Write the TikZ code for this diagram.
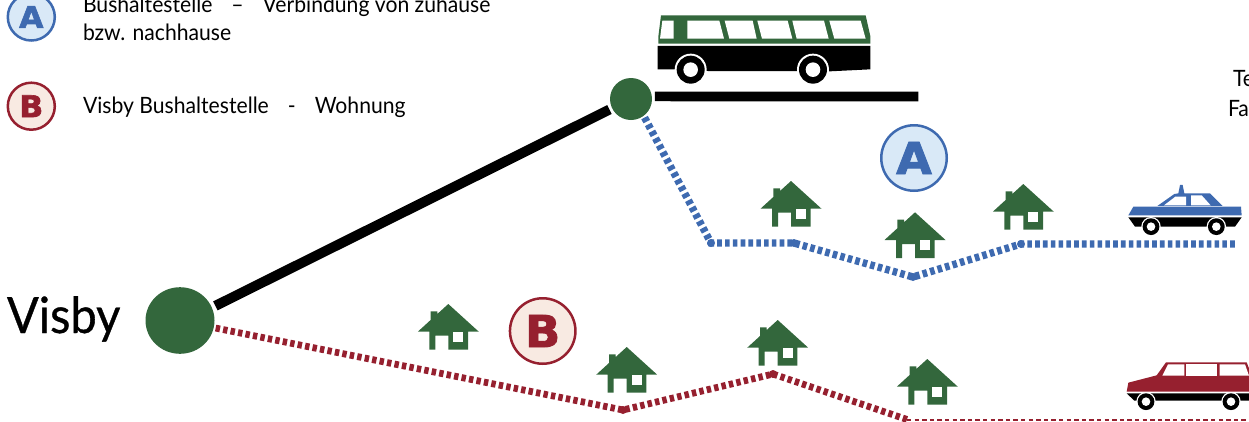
\documentclass[tikz,border=0pt]{standalone}
\usepackage{fontspec}
\setmainfont[FakeStretch=0.94]{Lato}
\newfontfamily\heavyfont[BoldFeatures={FakeBold=2,FakeStretch=1.05}]{DejaVu Sans}
\newfontfamily\bigfont[FakeBold=0.7,FakeStretch=0.94]{Lato}
\usetikzlibrary{shapes.geometric,calc}
\definecolor{hgreen}{RGB}{51,103,60}
\definecolor{lblue}{RGB}{62,106,176}
\definecolor{lred}{RGB}{150,32,47}
\definecolor{paleblue}{RGB}{217,233,247}
\definecolor{palered}{RGB}{248,234,226}
\newcommand{\fsz}[1]{\fontsize{#1}{#1}\selectfont}
\tikzset{
  x=1pt,y=-1pt,
  lab/.style={inner sep=0pt,outer sep=0pt,anchor=base west,font=\fsz{22.5}},
  badge/.style={circle,draw=#1,line width=2.5pt,inner sep=0pt,text=#1},
  bigbadge/.style={badge=#1,minimum size=65.5pt,font=\heavyfont\bfseries\fsz{44}},
  smallbadge/.style={badge=#1,minimum size=47pt,font=\heavyfont\bfseries\fsz{30}},
  hub/.style={fill=hgreen,inner sep=0pt,outer sep=0pt},
  solidroute/.style={line width=10pt,black},
  bluedots/.style={line width=7.4pt,lblue,dash pattern=on 4.6pt off 3.2pt},
  reddots/.style={line width=6.8pt,lred,dash pattern=on 4.4pt off 3.2pt},
  redthin/.style={line width=2pt,lred,dash pattern=on 4.4pt off 3.2pt},
  house/.pic={
    \fill[hgreen] (0,0) -- (30.5,27.7) -- (19.7,27.7) -- (19.7,45.7) -- (0,45.7) -- (0,31.7) -- (-13,31.7) -- (-13,45.7) -- (-19,45.7) -- (-19,27.7) -- (-30.5,27.7) -- (-17.7,16) -- (-17.7,7.3) -- (-11,7.3) -- (-11,10) -- cycle;
    \fill[white] (5,28) rectangle (15,38);
  },
  wheel/.pic={
    \fill[white] (0,0) circle (16pt);
    \fill[black] (0,0) circle (14pt);
    \fill[white] (0,0) circle (7.3pt);
  },
}
\begin{document}
\begin{tikzpicture}
\useasboundingbox (0,0) rectangle (1249,421);
\clip (0,0) rectangle (1249,421);

% legend
\node[smallbadge=lblue,fill=paleblue] (legA) at (31.3,17) {A};
\node[smallbadge=lred,fill=palered] (legB) at (31.3,106.2) {B};
\node[lab] (t1) at (83,12) {Bushaltestelle\hspace{19pt}–\hspace{19pt}Verbindung von zuhause};
\node[lab] (t2) at (83,40) {bzw. nachhause};
\node[lab] (t3) at (83,113.3) {Visby Bushaltestelle\hspace{19pt}-\hspace{19pt}Wohnung};
\node[lab] (t4) at (1233,86.7) {Te};
\node[lab] (t5) at (1228,116.7) {Fa};

% hubs
\node[hub,ellipse,minimum width=69pt,minimum height=66.6pt] (visby) at (180,320.5) {};
\node[hub,circle,minimum size=42pt] (stop) at (631,99) {};
\node[inner sep=0pt,outer sep=0pt,anchor=base west,font=\bigfont\fsz{50}] (vlab) at (7,333) {Visby};

% route waypoints
\coordinate (busend) at (918.3,96.5);
\coordinate (a1) at (711,243);
\coordinate (a2) at (794,243);
\coordinate (a3) at (913,277);
\coordinate (a4) at (1021,244);
\coordinate (a5) at (1236,244);
\coordinate (b1) at (623,410);
\coordinate (b2) at (773,374);
\coordinate (b3) at (907,419.5);
\coordinate (b4) at (1249,419.5);

% routes
\draw[solidroute,shorten <=4pt,shorten >=3pt] (visby.22) -- (stop.206);
\draw[line width=9.6pt,shorten <=3pt] (stop.7) -- (busend);
\draw[bluedots,shorten <=2pt] (stop.-53) -- (a1) -- (a2) -- (a3) -- (a4) -- (a5);
\draw[reddots,shorten <=2pt] (visby.-12) -- (b1) -- (b2) -- (b3);
\draw[redthin] (b3) -- (b4);
\foreach \p in {a1,a2,a3,a4} \fill[lblue] (\p) circle (4pt);
\foreach \p in {b1,b2} \fill[lred] (\p) circle (4pt);

% badges
\node[bigbadge=lblue,fill=paleblue] (bigA) at (914,158) {A};
\node[bigbadge=lred,fill=palered] (bigB) at (542.7,331) {B};

% houses
\foreach \hx/\hy in {791/181,915/212.3,1023.3/184,448.3/304,626.7/347,777.7/320,927.3/359}
  \pic at (\hx,\hy) {house};

% bus
\begin{scope}[shift={(600,0)},x=0.3333pt,y=-0.3333pt]
  \fill[hgreen] (183,46) -- (797,46) -- (811,108) -- (811,131) -- (175,131) -- (175,110) -- cycle;
  \fill[white] (187,62) -- (221,62) -- (221,116) -- (180,116) -- cycle;
  \fill[white] (262,62) -- (358,62) -- (372,116) -- (262,116) -- cycle;
  \fill[white] (374,62) -- (458,62) -- (470,116) -- (388,116) -- cycle;
  \fill[white] (472,62) -- (563,62) -- (577,116) -- (486,116) -- cycle;
  \fill[white] (577,62) -- (672,62) -- (686,116) -- (590,116) -- cycle;
  \fill[white] (688,62) -- (782,62) -- (797,116) -- (703,116) -- cycle;
  \fill[black] (173,138) -- (811,138) -- (811,208) -- (690,214) -- (320,213) -- (225,208) -- (173,208) -- cycle;
  \pic at (272,209) {wheel};
  \pic at (639,209) {wheel};
\end{scope}

% taxi
\begin{scope}[shift={(1100,50)},x=0.3333pt,y=-0.3333pt]
  \fill[lblue] (85,496) -- (100,470) -- (423,470) -- (425,496) -- cycle;
  \fill[lblue] (172,468) -- (223,432) -- (235,430) -- (240,405) -- (248,405) -- (253,430) -- (330,430) -- (368,468) -- cycle;
  \fill[white] (192,466) -- (226,440) -- (258,440) -- (258,466) -- cycle;
  \fill[white] (273,436) -- (305,436) -- (332,466) -- (273,466) -- cycle;
  \fill[black] (85,502) -- (425,502) -- (405,530) -- (105,530) -- cycle;
  \begin{scope}[shift={(153,530)}]
    \fill[white] (0,0) circle (9.7pt); \fill[black] (0,0) circle (8.4pt); \fill[white] (0,0) circle (4.3pt);
  \end{scope}
  \begin{scope}[shift={(349,530)}]
    \fill[white] (0,0) circle (9.7pt); \fill[black] (0,0) circle (8.4pt); \fill[white] (0,0) circle (4.3pt);
  \end{scope}
\end{scope}

% wagon
\begin{scope}[shift={(1100,340)},x=0.3333pt,y=-0.3333pt]
  \fill[lred] (80,155) -- (85,128) -- (170,106) -- (198,67) -- (440,67) -- (455,106) -- (480,106) -- (480,155) -- cycle;
  \fill[white] (187,107) -- (204,73) -- (253,73) -- (253,107) -- cycle;
  \fill[white] (259,73) -- (352,73) -- (352,107) -- (259,107) -- cycle;
  \fill[white] (359,73) -- (435,73) -- (447,107) -- (359,107) -- cycle;
  \fill[black] (80,160) -- (480,160) -- (480,182) -- (103,182) -- cycle;
  \begin{scope}[shift={(138,185)}]
    \fill[white] (0,0) circle (9.7pt); \fill[black] (0,0) circle (8.4pt); \fill[white] (0,0) circle (4.3pt);
  \end{scope}
  \begin{scope}[shift={(393,185)}]
    \fill[white] (0,0) circle (9.7pt); \fill[black] (0,0) circle (8.4pt); \fill[white] (0,0) circle (4.3pt);
  \end{scope}
\end{scope}
\end{tikzpicture}
\end{document}
